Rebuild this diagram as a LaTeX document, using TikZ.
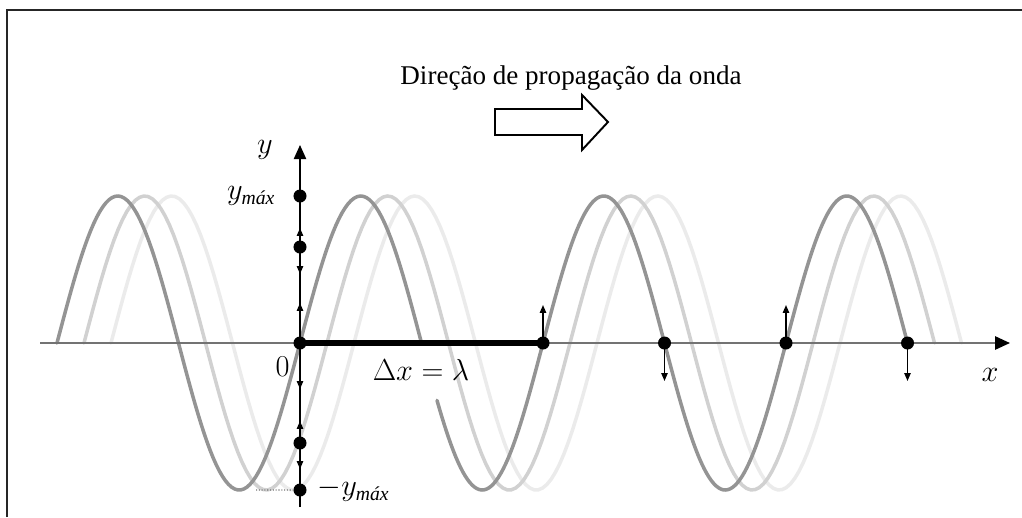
\documentclass[tikz,border=0pt]{standalone}
\usepackage{amsmath}
\usepackage{fontspec}
\setmainfont{Liberation Serif}
\usepackage{tikz}
\usetikzlibrary{arrows.meta, positioning}

\newcommand{\lam}{24.3}
\newcommand{\amp}{14.7}
\tikzset{
  dot/.style={circle, fill=black, inner sep=0pt, minimum size=7.4pt},
  wave/.style={line width=2pt, line cap=round},
  vel/.style={-{Triangle[length=4.5pt, width=3.6pt]}, line width=0.8pt},
  lab/.style={inner sep=0pt},
}

\begin{document}
\begin{tikzpicture}[font=\fontsize{16}{19}\selectfont, scale=0.2]
  \useasboundingbox (-30,-17.4) rectangle (72.2,34.3);
  % moldura
  \draw[line width=1.2pt, black!85] (-29.3,-17.4) -- (-29.3,33.3) -- (72.2,33.3);

  % ondas deslocadas (mais claras primeiro)
  \foreach \sh/\col in {5.4/black!8, 2.7/black!18} {
    \draw[wave, \col] plot[domain=-\lam+\sh:2.5*\lam+\sh, samples=200]
      (\x, {\amp*sin((\x-\sh)/\lam*360)});
  }
  \draw[wave, black!42] plot[domain=-\lam:12.15, samples=120] (\x, {\amp*sin(\x/\lam*360)});
  \draw[wave, black!42] plot[domain=13.7:2.5*\lam, samples=200] (\x, {\amp*sin(\x/\lam*360)});

  % eixos
  \coordinate (xl) at (-26,0);
  \coordinate (xr) at (71,0);
  \coordinate (yb) at (0,-16.4);
  \coordinate (yt) at (0,19.8);
  \draw[line width=1.2pt, black!55, -{Triangle[length=8.5pt, width=7.5pt, black]}] (xl) -- (xr);
  \draw[line width=0.8pt, -{Triangle[length=8pt, width=7pt]}] (yb) -- (yt);

  % pontos
  \node[dot] (o) at (0,0) {};
  \node[dot] (d1) at (\lam,0) {};
  \node[dot] (d2) at (1.5*\lam,0) {};
  \node[dot] (d3) at (2*\lam,0) {};
  \node[dot] (d4) at (2.5*\lam,0) {};
  \node[dot] (t1) at (0,\amp) {};
  \node[dot] (t2) at (0,9.6) {};
  \node[dot] (b1) at (0,-10) {};
  \node[dot] (b2) at (0,-\amp) {};
  \coordinate (vale) at (-4.4,-\amp);
  \draw[densely dotted, black!55, line width=0.6pt] (vale) -- (b2);

  \draw[line width=3.4pt] (o.center) -- (d1.center);

  % velocidades
  \foreach \p/\dir in {d1/1, d2/-1, d3/1, d4/-1}
    \draw[vel] (\p.center) -- ++(0,\dir*3.8);
  \foreach \yy/\dir in {11.1/1, 7.3/-1, 3.6/1, -4.2/-1, -8.2/1, -12.2/-1}
    \draw[vel] (0,\yy-\dir*0.9) -- (0,\yy+\dir*0.4);

  % rotulos
  \node (ylab) at (-3.5,19.3) {$y$};
  \node[lab, left=10pt of t1] (ymaxlab) {$y_{\textit{máx}}$};
  \node[lab, right=6pt of b2] (yminlab) {$-y_{\textit{máx}}$};
  \node[lab, below left=5pt and 3pt of o] (zero) {$0$};
  \node[lab, anchor=north] (dx) at (12.1,-1.6) {$\Delta x = \lambda$};
  \node (xlab) at (69,-3.2) {$x$};

  \node[font=\fontsize{15.4}{18}\selectfont] (titulo) at (27.1,26.5) {Direção de propagação da onda};
  \draw[line width=1.1pt] (19.5,20.8) -- (28.2,20.8) -- (28.2,19.3) -- (30.8,22.1)
    -- (28.2,24.8) -- (28.2,23.4) -- (19.5,23.4) -- cycle;
\end{tikzpicture}
\end{document}
